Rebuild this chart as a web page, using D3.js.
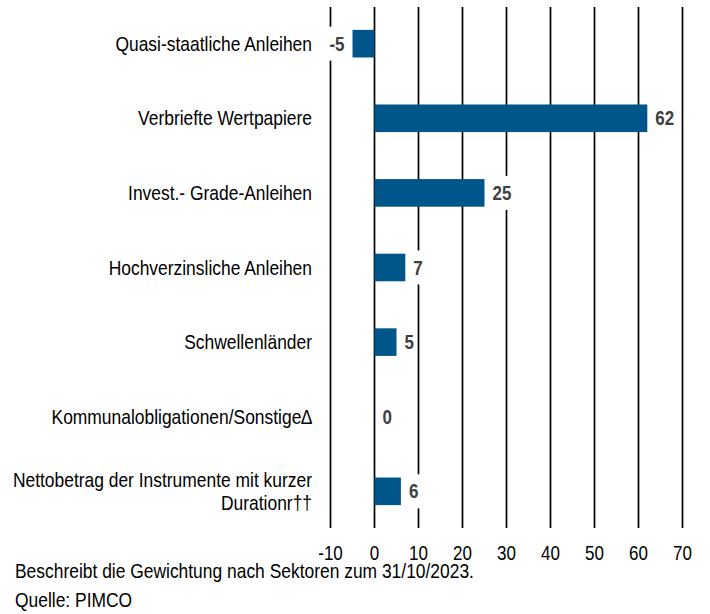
<!DOCTYPE html>
<html>
<head>
<meta charset="utf-8">
<script src="https://cdn.jsdelivr.net/npm/d3@7"></script>
<style>
  body { margin: 0; background: #fff; }
  svg { display: block; font-family: "Liberation Sans", Arial, sans-serif; }
</style>
</head>
<body>
<div class="chart"></div>
<script>
// Gewichtung nach Sektoren
var categories = [
  ['Quasi-staatliche Anleihen'],
  ['Verbriefte Wertpapiere'],
  ['Invest.- Grade-Anleihen'],
  ['Hochverzinsliche Anleihen'],
  ['Schwellenländer'],
  ['Kommunalobligationen/Sonstige\u2206'],
  ['Nettobetrag der Instrumente mit kurzer', 'Durationr\u2020\u2020']
];
var values = [-5, 62, 25, 7, 5, 0, 6];
var ticks = [-10, 0, 10, 20, 30, 40, 50, 60, 70];
var footer = ['Beschreibt die Gewichtung nach Sektoren zum 31/10/2023.', 'Quelle: PIMCO'];

var width = 710, height = 614;
var narrow = 'scale(0.85,1)'; // Arial Narrow look

var svg = d3.select('.chart')
  .append('svg')
    .attr('width', width)
    .attr('height', height);

var x = d3.scaleLinear()
  .domain([-10, 70])
  .range([330.5, 682.5]);

var y = d3.scaleBand()
  .domain(d3.range(values.length))
  .range([6, 529])
  .paddingInner(0.63)
  .paddingOuter(0.32);

// gridlines
svg.append('g')
  .selectAll('line')
  .data(ticks)
  .enter()
    .append('line')
    .attr('x1', d => x(d))
    .attr('x2', d => x(d))
    .attr('y1', 7)
    .attr('y2', 528)
    .attr('stroke', '#000')
    .attr('stroke-width', 1.7);

// tick labels
svg.append('g')
  .selectAll('g')
  .data(ticks)
  .enter()
    .append('g')
    .attr('transform', d => 'translate(' + x(d) + ',553)')
  .append('text')
    .attr('transform', narrow)
    .attr('dy', '0.35em')
    .attr('text-anchor', 'middle')
    .style('font-size', '20px')
    .attr('fill', '#000')
    .text(d => d);

// bars
svg.append('g')
  .selectAll('rect')
  .data(values)
  .enter()
    .append('rect')
    .attr('x', d => x(Math.min(0, d)))
    .attr('y', (d, i) => y(i))
    .attr('width', d => Math.abs(x(d) - x(0)))
    .attr('height', y.bandwidth())
    .attr('fill', '#00558a');

// value labels with white box
var lbl = svg.append('g')
  .selectAll('g')
  .data(values)
  .enter()
    .append('g')
    .attr('transform', (d, i) => 'translate(' + (d < 0 ? x(d) - 8 : x(d) + 8) + ',' + (y(i) + y.bandwidth() / 2) + ') ' + narrow);

lbl.append('text')
  .attr('dy', '0.35em')
  .attr('text-anchor', d => d < 0 ? 'end' : 'start')
  .style('font-size', '20px')
  .style('font-weight', 'bold')
  .attr('fill', '#404040')
  .text(d => d);

lbl.each(function () {
  var g = d3.select(this);
  var bb = g.select('text').node().getBBox();
  g.insert('rect', 'text')
    .attr('x', bb.x - 2)
    .attr('y', -17)
    .attr('width', bb.width + 4)
    .attr('height', 34)
    .attr('fill', '#fff');
});

// category labels
var cat = svg.append('g')
  .selectAll('g')
  .data(categories)
  .enter()
    .append('g')
    .attr('transform', (d, i) => 'translate(312,' + (y(i) + y.bandwidth() / 2) + ') ' + narrow)
  .append('text')
    .attr('text-anchor', 'end')
    .style('font-size', '20.5px')
    .attr('fill', '#000');

cat.selectAll('tspan')
  .data(d => d.map((t, j) => ({ t: t, j: j, n: d.length })))
  .enter()
    .append('tspan')
    .attr('x', 0)
    .attr('y', d => (d.j - (d.n - 1) / 2) * 23)
    .attr('dy', '0.35em')
    .text(d => d.t);

// footer
svg.append('g')
  .selectAll('text')
  .data(footer)
  .enter()
    .append('text')
    .attr('transform', (d, i) => 'translate(15,' + (571 + i * 29) + ') ' + narrow)
    .attr('dy', '0.35em')
    .style('font-size', '20.5px')
    .attr('fill', '#000')
    .text(d => d);
</script>
</body>
</html>
